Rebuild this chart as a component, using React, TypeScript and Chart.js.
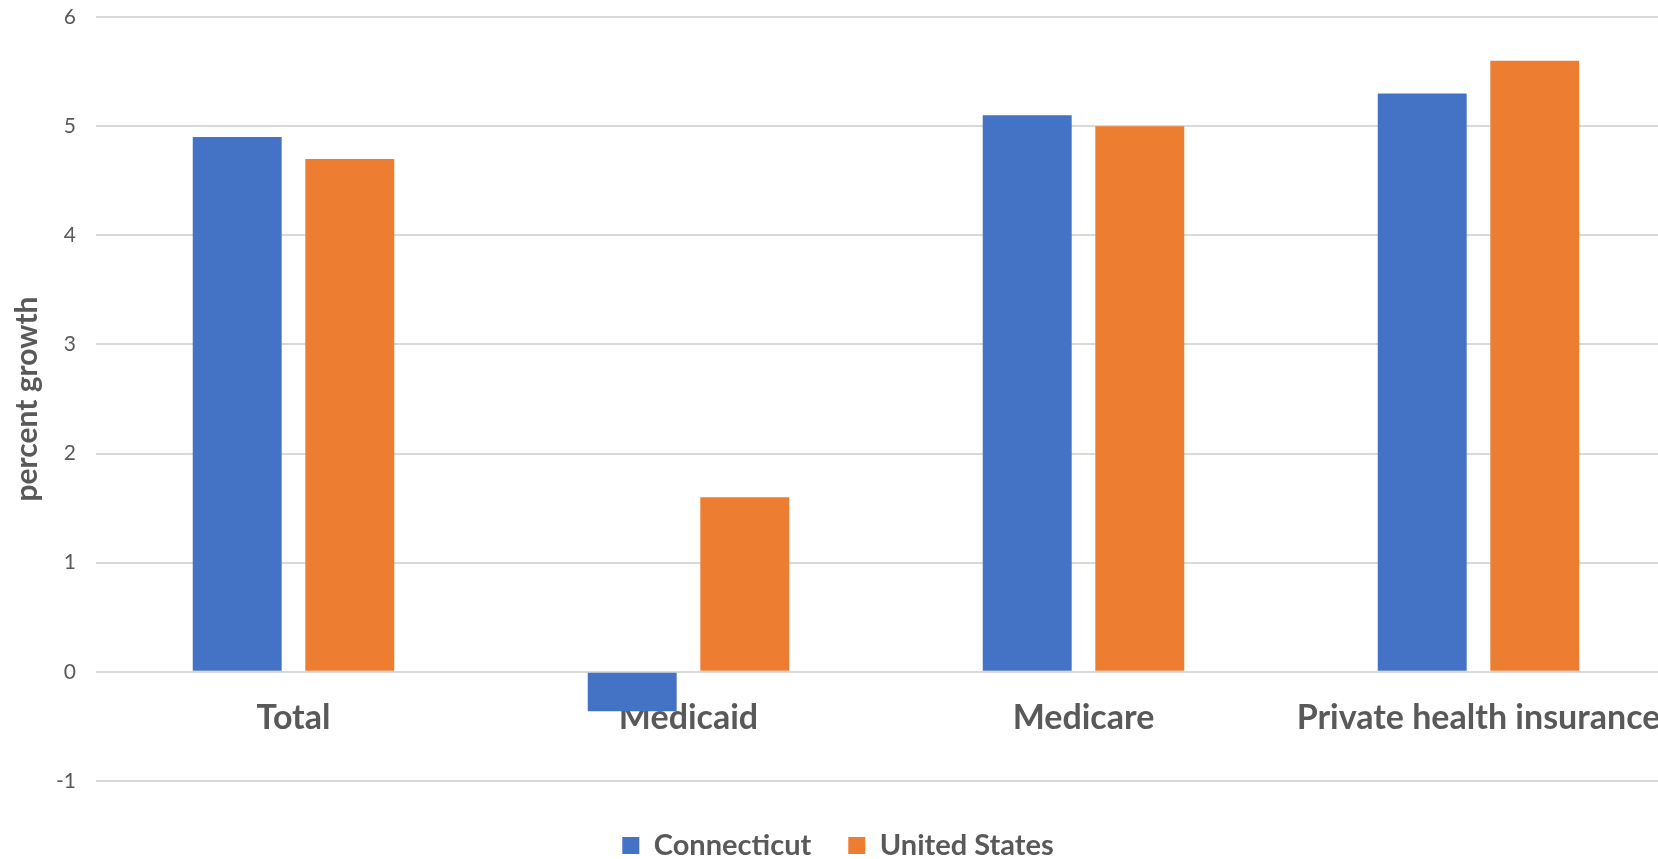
import React, { useEffect, useRef } from "react";
import { Chart, registerables } from "chart.js";

Chart.register(...registerables);

const categories = ["Total", "Medicaid", "Medicare", "Private health insurance"];
const connecticut = [4.9, -0.36, 5.1, 5.3];
const unitedStates = [4.7, 1.6, 5.0, 5.6];
const yMin = -1;
const yMax = 6;
const yStep = 1;

const TEXT = "#595959";
const FONT = "Lato, 'Open Sans', sans-serif";

export default function App() {
  const ref = useRef<HTMLCanvasElement | null>(null);

  useEffect(() => {
    document.documentElement.style.overflow = "hidden";
    document.body.style.overflow = "hidden";
    const canvas = ref.current;
    if (!canvas) return;
    const chart = new Chart(canvas, {
      type: "bar",
      data: {
        labels: categories,
        datasets: [
          {
            label: "Connecticut",
            data: connecticut,
            backgroundColor: "#4472C4",
            borderWidth: 0,
            categoryPercentage: 0.57,
            barPercentage: 0.79,
          },
          {
            label: "United States",
            data: unitedStates,
            backgroundColor: "#ED7D31",
            borderWidth: 0,
            categoryPercentage: 0.57,
            barPercentage: 0.79,
          },
        ],
      },
      options: {
        responsive: false,
        animation: false,
        layout: { padding: { top: 17, right: 12, left: 0, bottom: 0 } },
        plugins: {
          tooltip: { enabled: false },
          legend: {
            position: "bottom",
            title: { display: true, text: "", font: { size: 10, lineHeight: 1.3 }, padding: 0 },
            labels: {
              boxWidth: 17,
              boxHeight: 17,
              padding: 37,
              color: TEXT,
              font: { family: FONT, size: 29, weight: "bold" },
            },
          },
        },
        scales: {
          x: {
            position: { y: 0 },
            grid: { display: false, drawTicks: false },
            border: { display: false },
            ticks: {
              autoSkip: false,
              maxRotation: 0,
              minRotation: 0,
              padding: 26,
              color: TEXT,
              font: { family: FONT, size: 34, weight: "bold" },
            },
          },
          y: {
            min: yMin,
            max: yMax,
            afterFit: (scale: any) => {
              scale.width = 96;
            },
            ticks: {
              stepSize: yStep,
              padding: 0,
              color: TEXT,
              font: { family: FONT, size: 21 },
            },
            grid: {
              color: "#d9d9d9",
              lineWidth: 2,
              drawTicks: true,
              tickLength: 20,
              tickColor: "rgba(0,0,0,0)",
            },
            border: { display: false },
            title: {
              display: true,
              text: "percent growth",
              color: TEXT,
              font: { family: FONT, size: 30, weight: "bold", lineHeight: 1.2 },
              padding: { top: 9, bottom: 0 },
            },
          },
        },
      },
    });
    return () => chart.destroy();
  }, []);

  return (
    <div style={{ position: "absolute", left: 0, top: 0, width: 1688, height: 870 }}>
      <canvas ref={ref} width={1688} height={870} />
    </div>
  );
}
